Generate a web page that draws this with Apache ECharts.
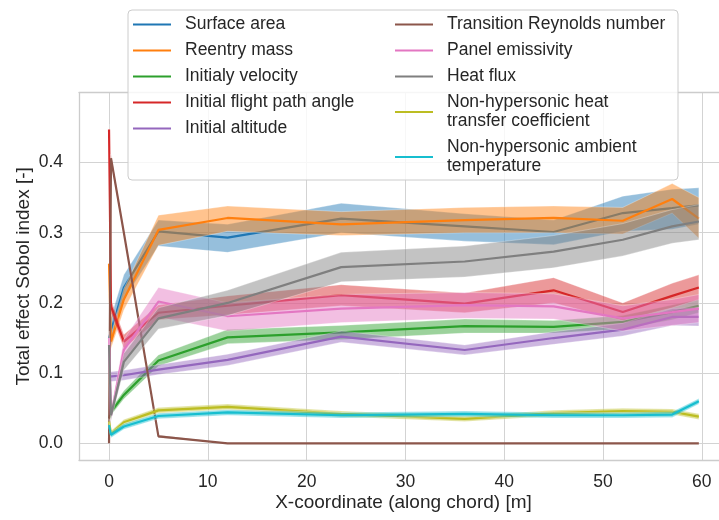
<!DOCTYPE html>
<html>
<head>
<meta charset="utf-8">
<script src="https://cdn.jsdelivr.net/npm/echarts@6/dist/echarts.min.js"></script>
<style>html,body{margin:0;padding:0;background:#fff;}#c{width:719px;height:520px;}</style>
</head>
<body>
<div id="c"></div>
<script>
const xs = [0, 0.2, 1.5, 5, 12, 23.5, 36, 45, 52, 57, 59.7];
const xTicks = [0, 10, 20, 30, 40, 50, 60];
const yTicks = [0, 0.1, 0.2, 0.3, 0.4];

const names = ['Surface area', 'Reentry mass', 'Initialy velocity', 'Initial flight path angle', 'Initial altitude',
  'Transition Reynolds number', 'Panel emissivity', 'Heat flux', 'Non-hypersonic heat\ntransfer coefficient', 'Non-hypersonic ambient\ntemperature'];
const colors = ['#1f77b4', '#ff7f0e', '#2ca02c', '#d62728', '#9467bd', '#8c564b', '#e377c2', '#7f7f7f', '#bcbd22', '#17becf'];

const surfaceMid = [0.15, 0.16, 0.222, 0.302, 0.293, 0.320, 0.309, 0.301, 0.328, 0.335, 0.339];
const surfaceLo  = [0.13, 0.14, 0.205, 0.281, 0.272, 0.300, 0.288, 0.283, 0.302, 0.305, 0.312];
const surfaceHi  = [0.17, 0.18, 0.240, 0.318, 0.312, 0.342, 0.327, 0.318, 0.352, 0.362, 0.364];

const massMid = [0.256, 0.145, 0.205, 0.304, 0.321, 0.312, 0.318, 0.321, 0.317, 0.348, 0.320];
const massLo  = [0.245, 0.135, 0.190, 0.282, 0.302, 0.296, 0.300, 0.300, 0.298, 0.328, 0.292];
const massHi  = [0.268, 0.155, 0.220, 0.325, 0.338, 0.330, 0.336, 0.338, 0.336, 0.370, 0.350];

const velMid = [0.036, 0.045, 0.069, 0.118, 0.151, 0.158, 0.167, 0.166, 0.173, 0.187, 0.196];
const velLo  = [0.032, 0.040, 0.063, 0.110, 0.142, 0.148, 0.157, 0.157, 0.163, 0.176, 0.186];
const velHi  = [0.040, 0.050, 0.075, 0.126, 0.162, 0.168, 0.177, 0.175, 0.182, 0.197, 0.205];

const fpaMid = [0.447, 0.195, 0.145, 0.186, 0.196, 0.211, 0.199, 0.218, 0.187, 0.210, 0.222];
const fpaLo  = [0.440, 0.185, 0.135, 0.176, 0.183, 0.196, 0.186, 0.200, 0.175, 0.193, 0.205];
const fpaHi  = [0.455, 0.205, 0.155, 0.197, 0.210, 0.226, 0.214, 0.236, 0.200, 0.228, 0.240];

const altMid = [0.095, 0.095, 0.097, 0.105, 0.119, 0.152, 0.133, 0.150, 0.162, 0.180, 0.180];
const altLo  = [0.088, 0.088, 0.090, 0.098, 0.111, 0.144, 0.126, 0.141, 0.153, 0.168, 0.167];
const altHi  = [0.102, 0.102, 0.104, 0.112, 0.127, 0.160, 0.140, 0.159, 0.171, 0.192, 0.193];

const reMid = [0.0, 0.406, 0.300, 0.010, 0.0, 0.0, 0.0, 0.0, 0.0, 0.0, 0.0];
const reLo  = [0.0, 0.400, 0.296, 0.008, 0.0, 0.0, 0.0, 0.0, 0.0, 0.0, 0.0];
const reHi  = [0.0, 0.412, 0.304, 0.012, 0.0, 0.0, 0.0, 0.0, 0.0, 0.0, 0.0];

const emisMid = [0.150, 0.040, 0.133, 0.202, 0.181, 0.192, 0.197, 0.195, 0.178, 0.187, 0.192];
const emisLo  = [0.140, 0.032, 0.118, 0.180, 0.160, 0.172, 0.178, 0.177, 0.160, 0.168, 0.172];
const emisHi  = [0.160, 0.048, 0.148, 0.222, 0.200, 0.212, 0.215, 0.213, 0.196, 0.205, 0.212];

const fluxMid = [0.140, 0.040, 0.116, 0.178, 0.200, 0.251, 0.259, 0.273, 0.290, 0.309, 0.316];
const fluxLo  = [0.130, 0.033, 0.104, 0.163, 0.182, 0.230, 0.237, 0.250, 0.267, 0.285, 0.290];
const fluxHi  = [0.150, 0.047, 0.128, 0.193, 0.218, 0.272, 0.281, 0.296, 0.313, 0.333, 0.340];

const htcMid = [0.031, 0.014, 0.030, 0.047, 0.052, 0.042, 0.035, 0.043, 0.046, 0.045, 0.038];
const htcLo  = [0.027, 0.010, 0.026, 0.043, 0.048, 0.038, 0.031, 0.039, 0.042, 0.041, 0.034];
const htcHi  = [0.035, 0.018, 0.034, 0.051, 0.056, 0.046, 0.039, 0.047, 0.050, 0.049, 0.042];

const ambMid = [0.026, 0.012, 0.024, 0.039, 0.044, 0.040, 0.042, 0.040, 0.040, 0.041, 0.060];
const ambLo  = [0.022, 0.008, 0.020, 0.035, 0.040, 0.036, 0.038, 0.036, 0.036, 0.037, 0.056];
const ambHi  = [0.030, 0.016, 0.028, 0.043, 0.048, 0.044, 0.046, 0.044, 0.044, 0.045, 0.064];

const mids = [surfaceMid, massMid, velMid, fpaMid, altMid, reMid, emisMid, fluxMid, htcMid, ambMid];
const los  = [surfaceLo, massLo, velLo, fpaLo, altLo, reLo, emisLo, fluxLo, htcLo, ambLo];
const his  = [surfaceHi, massHi, velHi, fpaHi, altHi, reHi, emisHi, fluxHi, htcHi, ambHi];

function hexA(hex, a) {
  const r = parseInt(hex.slice(1,3),16), g = parseInt(hex.slice(3,5),16), b = parseInt(hex.slice(5,7),16);
  return 'rgba(' + r + ',' + g + ',' + b + ',' + a + ')';
}

const FONT = '"Liberation Sans", Arial, sans-serif';
const TXT = '#262626';
const SPINE = '#cccccc';

const series = [];
names.forEach(function (nm, k) {
  const lo = los[k], hi = his[k];
  series.push({
    type: 'custom',
    name: 'band' + k,
    silent: true,
    z: 3 + k * 2,
    data: xs.map(function (x, i) { return [x, lo[i], hi[i]]; }),
    encode: { x: 0, y: [1, 2] },
    renderItem: function (params, api) {
      if (params.dataIndex !== 0) return null;
      const pts = [];
      for (let i = 0; i < xs.length; i++) pts.push(api.coord([xs[i], hi[i]]));
      for (let i = xs.length - 1; i >= 0; i--) pts.push(api.coord([xs[i], lo[i]]));
      return { type: 'polygon', shape: { points: pts }, style: { fill: hexA(colors[k], 0.47), stroke: 'rgba(255,255,255,0.5)', lineWidth: 0.6 } };
    }
  });
  series.push({
    type: 'line',
    name: nm,
    z: 4 + k * 2,
    symbol: 'none',
    showSymbol: false,
    color: colors[k],
    lineStyle: { color: colors[k], width: 2.2 },
    data: xs.map(function (x, i) { return [x, mids[k][i]]; }),
    animation: false
  });
});

const legendCommon = {
  orient: 'vertical', top: 15, padding: 0, itemGap: 7,
  icon: 'rect', itemWidth: 38, itemHeight: 2.2, z: 100, selectedMode: false,
  textStyle: { fontSize: 17.5, lineHeight: 19, color: TXT, fontFamily: FONT, padding: [0, 0, 0, 9] }
};

const chart = echarts.init(document.getElementById('c'), null, { renderer: 'canvas' });
chart.setOption({
  animation: false,
  backgroundColor: '#ffffff',
  textStyle: { fontFamily: FONT },
  grid: { left: 79, top: 92.7, width: 649, height: 367.3, show: false, outerBoundsMode: 'none', containLabel: false },
  xAxis: [{
    type: 'value', min: -3.04, max: 62.65,
    name: 'X-coordinate (along chord) [m]', nameLocation: 'middle', nameGap: 33, nameMoveOverlap: false,
    nameTextStyle: { fontSize: 19, color: TXT, fontFamily: FONT },
    axisLine: { show: true, onZero: false, lineStyle: { color: SPINE, width: 1.3 } },
    axisTick: { show: false, customValues: xTicks },
    axisLabel: { customValues: xTicks, fontSize: 17.5, color: TXT, fontFamily: FONT, margin: 13 },
    splitLine: { show: true, lineStyle: { color: '#d3d3d3', width: 1 } }
  }, {
    type: 'value', min: -3.04, max: 62.65, position: 'top',
    axisLine: { show: true, onZero: false, lineStyle: { color: SPINE, width: 1.3 } },
    axisTick: { show: false }, axisLabel: { show: false }, splitLine: { show: false }
  }],
  yAxis: {
    type: 'value', min: -0.0237, max: 0.4994,
    name: 'Total effect Sobol index [-]', nameLocation: 'middle', nameGap: 46, nameRotate: 90, nameMoveOverlap: false,
    nameTextStyle: { fontSize: 19, color: TXT, fontFamily: FONT },
    axisLine: { show: true, onZero: false, lineStyle: { color: SPINE, width: 1.3 } },
    axisTick: { show: false, customValues: yTicks },
    axisLabel: { customValues: yTicks, fontSize: 17.5, color: TXT, fontFamily: FONT, margin: 16,
      formatter: function (v) { return v.toFixed(1); } },
    splitLine: { show: true, lineStyle: { color: '#d3d3d3', width: 1 } }
  },
  graphic: [{
    type: 'rect', z: 90, silent: true,
    shape: { x: 128, y: 10, width: 550, height: 170, r: 4 },
    style: { fill: 'rgba(255,255,255,0.82)', stroke: SPINE, lineWidth: 1 }
  }],
  legend: [
    Object.assign({}, legendCommon, { data: names.slice(0, 5), left: 133 }),
    Object.assign({}, legendCommon, { data: names.slice(5), left: 395 })
  ],
  series: series
});
</script>
</body>
</html>
